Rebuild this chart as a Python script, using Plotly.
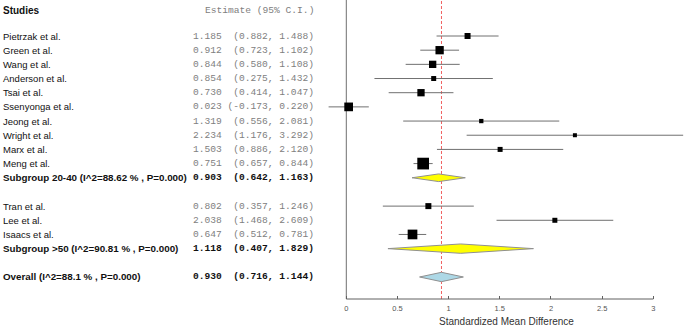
import plotly.graph_objects as go

# ---------------- data ----------------
group1_names = ["Pietrzak et al.", "Green et al.", "Wang et al.", "Anderson et al.", "Tsai et al.",
                "Ssenyonga et al.", "Jeong et al.", "Wright et al.", "Marx et al.", "Meng et al."]
group1_est = [1.185, 0.912, 0.844, 0.854, 0.730, 0.023, 1.319, 2.234, 1.503, 0.751]
group1_lo = [0.882, 0.723, 0.580, 0.275, 0.414, -0.173, 0.556, 1.176, 0.886, 0.657]
group1_hi = [1.488, 1.102, 1.108, 1.432, 1.047, 0.220, 2.081, 3.292, 2.120, 0.844]
group1_weight_px = [6, 8.3, 7.3, 5, 7.3, 8.7, 4.3, 4, 5, 11.7]

group2_names = ["Tran et al.", "Lee et al.", "Isaacs et al."]
group2_est = [0.802, 2.038, 0.647]
group2_lo = [0.357, 1.468, 0.512]
group2_hi = [1.246, 2.609, 0.781]
group2_weight_px = [6, 5, 9.7]

sub1_label = "Subgroup 20-40 (I^2=88.62 % , P=0.000)"
sub1 = (0.903, 0.642, 1.163)
sub2_label = "Subgroup >50 (I^2=90.81 % , P=0.000)"
sub2 = (1.118, 0.407, 1.829)
overall_label = "Overall (I^2=88.1 % , P=0.000)"
overall = (0.930, 0.716, 1.144)

tick_vals = [0, 0.5, 1, 1.5, 2, 2.5, 3]
tick_text = ["0", "0.5", "1", "1.5", "2", "2.5", "3"]
x_label = "Standardized Mean Difference"

# ---------------- layout helpers ----------------
W, H = 685, 326
PLOT_LEFT = 320
X0_PX, UNIT_PX = 346.3, 102.33
x_range = [(PLOT_LEFT - X0_PX) / UNIT_PX, (W - X0_PX) / UNIT_PX]
ROW_PX = 14.176
TOP_ROW_Y = 36
AXIS_Y = 299
y_range = [(AXIS_Y - TOP_ROW_Y) / ROW_PX, -TOP_ROW_Y / ROW_PX]
header_row = (10 - TOP_ROW_Y) / ROW_PX

rows1 = list(range(len(group1_names)))
sub1_row = len(rows1)
rows2 = [sub1_row + 2 + i for i in range(len(group2_names))]
sub2_row = rows2[-1] + 1
overall_row = sub2_row + 2

def px(xp):
    return xp / W

def est_text(e, l, h):
    ci = "(%.3f, %.3f)" % (l, h)
    s = "%.3f %s" % (e, ci.rjust(15))
    return s.replace(" ", "\u00a0")

SANS = "Liberation Sans, Arial, sans-serif"
MONO = "Liberation Mono, Courier New, monospace"
GREY_TXT = "#808080"
LINE_GREY = "#707070"

fig = go.Figure()

# CI lines
xs, ys = [], []
for r, l, h in zip(rows1 + rows2, group1_lo + group2_lo, group1_hi + group2_hi):
    xs += [l, h, None]
    ys += [r, r, None]
fig.add_trace(go.Scatter(x=xs, y=ys, mode="lines", line=dict(color=LINE_GREY, width=1),
                         hoverinfo="skip", showlegend=False))

# squares
fig.add_trace(go.Scatter(x=group1_est + group2_est, y=rows1 + rows2, mode="markers",
                         marker=dict(symbol="square", color="#000000", opacity=1,
                                     size=group1_weight_px + group2_weight_px, line=dict(width=0)),
                         showlegend=False))

# diamonds
def diamond(vals, row, half, color):
    e, l, h = vals
    fig.add_trace(go.Scatter(x=[l, e, h, e, l], y=[row, row - half, row, row + half, row],
                             mode="lines", fill="toself", fillcolor=color,
                             line=dict(color="#909090", width=1), showlegend=False))

diamond(sub1, sub1_row, 0.27, "#ffff00")
diamond(sub2, sub2_row, 0.33, "#ffff00")
diamond(overall, overall_row, 0.33, "#add8e6")

shapes = [
    dict(type="line", xref="x", yref="paper", x0=0, x1=0, y0=0, y1=1,
         line=dict(color="#707070", width=1), layer="below"),
    dict(type="line", xref="x", yref="paper", x0=overall[0], x1=overall[0], y0=0, y1=1,
         line=dict(color="#f06060", width=1, dash="3px,2px"), layer="below"),
    dict(type="line", xref="x", yref="paper", x0=tick_vals[0], x1=tick_vals[-1], y0=0, y1=0,
         line=dict(color="#606060", width=1)),
]

ann = []
def txt(x, y, s, size=9.5, color="#111", family=SANS, anchor="left", bold=False):
    if bold:
        s = "<b>" + s + "</b>"
    ann.append(dict(x=x, y=y, xref="paper", yref="y", text=s, showarrow=False,
                    xanchor=anchor, yanchor="middle",
                    font=dict(size=size, color=color, family=family)))

txt(px(1), header_row, "Studies", size=10, bold=True)
txt(px(316), header_row, "Estimate (95% C.I.)".replace(" ", "\u00a0"), size=9.6,
    color=GREY_TXT, family=MONO, anchor="right")

for r, n, e, l, h in zip(rows1, group1_names, group1_est, group1_lo, group1_hi):
    txt(px(1), r, n)
    txt(px(316), r, est_text(e, l, h), size=9.6, color=GREY_TXT, family=MONO, anchor="right")
for r, n, e, l, h in zip(rows2, group2_names, group2_est, group2_lo, group2_hi):
    txt(px(1), r, n)
    txt(px(316), r, est_text(e, l, h), size=9.6, color=GREY_TXT, family=MONO, anchor="right")
for r, lab, v in [(sub1_row, sub1_label, sub1), (sub2_row, sub2_label, sub2),
                  (overall_row, overall_label, overall)]:
    txt(px(1), r, lab, size=9.8, bold=True)
    txt(px(316), r, est_text(*v), size=9.6, color="#111", family=MONO, anchor="right", bold=True)

ann.append(dict(x=px(506), y=-(321 - AXIS_Y) / AXIS_Y, xref="paper", yref="paper",
                text=x_label, showarrow=False, xanchor="center", yanchor="middle",
                font=dict(size=10, color="#333", family=SANS)))

fig.update_layout(
    width=W, height=H, margin=dict(l=0, r=0, t=0, b=H - AXIS_Y),
    plot_bgcolor="white", paper_bgcolor="white",
    xaxis=dict(domain=[PLOT_LEFT / W, 1], range=x_range, showgrid=False, zeroline=False,
               showline=False, ticks="inside", ticklen=3, tickwidth=1, tickcolor="#606060",
               tickvals=tick_vals, ticktext=tick_text, ticklabelstandoff=3,
               tickfont=dict(size=7.5, color="#555", family=SANS)),
    yaxis=dict(range=y_range, visible=False, showgrid=False, zeroline=False),
    shapes=shapes, annotations=ann, showlegend=False,
)

fig.write_html("out.html", config={"displayModeBar": False},
               post_script="document.body.style.margin='0';")
